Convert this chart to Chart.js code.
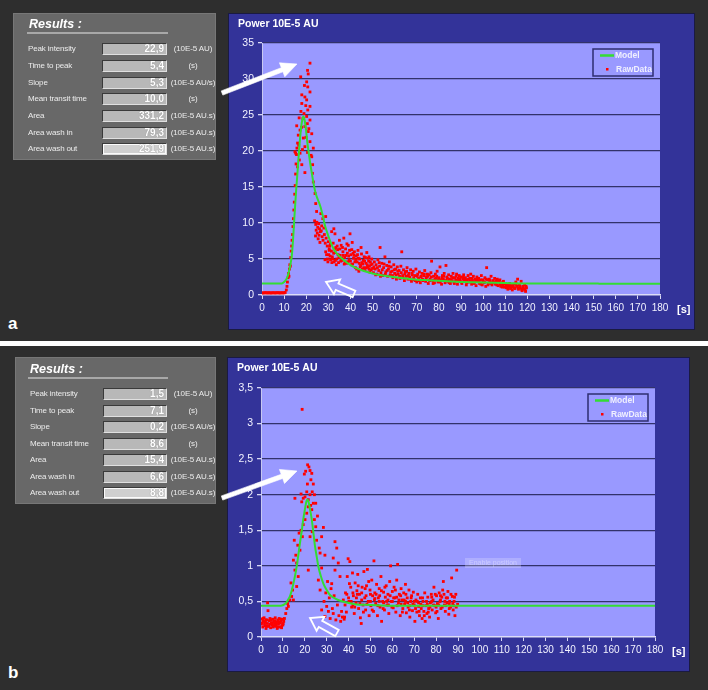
<!DOCTYPE html>
<html>
<head>
<meta charset="utf-8">
<script src="https://cdn.jsdelivr.net/npm/chart.js@4/dist/chart.umd.min.js"></script>
<style>
body{margin:0;width:708px;height:690px;background:#fff;position:relative;overflow:hidden;font-family:"Liberation Sans",Arial,sans-serif}
.abs{position:absolute}
.panel{position:absolute;left:0;width:708px;background:#2e2e2e}
.res{position:absolute;background:#686868;border:1px solid #777;box-sizing:border-box}
.hdr{position:absolute;color:#fff;font:italic bold 12.5px "Liberation Sans",Arial,sans-serif;white-space:nowrap}
.uline{position:absolute;height:2px;background:#a8a8a8}
.lbl{position:absolute;color:#ececec;font-size:8px;letter-spacing:-0.15px;height:12px;line-height:12px;white-space:nowrap}
.val{position:absolute;height:12px;box-sizing:border-box;background:#b8b8b8;border:1px solid;border-color:#3a3a3a #e0e0e0 #e0e0e0 #3a3a3a;color:#fff;font-weight:bold;font-size:10px;line-height:10px;text-align:right;padding-right:2px;text-shadow:0 0 1px #777}
.val.sel{background:#cfcfcf;box-shadow:inset 0 0 0 1px #fafafa}
.unit{position:absolute;color:#ececec;font-size:8px;letter-spacing:-0.1px;height:12px;line-height:12px;width:60px;text-align:center;white-space:nowrap}
.tag{position:absolute;color:#fff;font:bold 17px "Liberation Sans",Arial,sans-serif}
canvas{position:absolute}
</style>
</head>
<body>
<div class="panel" style="top:0;height:341px"></div>
<div class="panel" style="top:346px;height:344px"></div>
<canvas id="chartA" width="467" height="317" style="left:228px;top:13px"></canvas>
<canvas id="chartB" width="463" height="315" style="left:227px;top:357px"></canvas>
<div class="abs" style="left:465px;top:558px;width:56px;height:10px;background:rgba(225,225,255,0.3);color:rgba(255,255,255,0.35);font-size:7px;line-height:10px;text-align:center">Enable position</div>
<div class="tag" style="left:8px;top:314px">a</div>
<div class="tag" style="left:8px;top:663px">b</div>
<svg class="abs" id="arrows" width="708" height="690" style="left:0;top:0;pointer-events:none"></svg>
<script>
// ---------- data ----------
const resultLabels = ['Peak intensity','Time to peak','Slope','Mean transit time','Area','Area wash in','Area wash out'];
const resultUnits  = ['(10E-5 AU)','(s)','(10E-5 AU/s)','(s)','(10E-5 AU.s)','(10E-5 AU.s)','(10E-5 AU.s)'];
const resultValuesA = ['22,9','5,4','5,3','10,0','331,2','79,3','251,9'];
const resultValuesB = ['1,5','7,1','0,2','8,6','15,4','6,6','8,8'];

const chartTitle = 'Power 10E-5 AU';
const xMax = 180, xStep = 10;
const yMaxA = 35, yStepA = 5;
const yMaxB = 3.5, yStepB = 0.5;

// green model curve, panel a  [time s, power]
const modelA = [[0,1.6],[8.5,1.6],[9.5,1.7],[10.5,1.95],[11.5,2.5],[12.2,3.3],[13,4.5],[13.5,5.5],[14,7.5],[14.5,10],[15,12.5],[15.5,14.8],[16,16.8],[16.5,19],[17,21],[17.6,23],[18.2,24.3],[18.7,24.8],[19.2,24.4],[19.8,23.2],[20.5,21.2],[21.2,19.6],[21.8,18.3],[22.6,16.8],[23.3,15.5],[24.2,14.2],[25.2,13.3],[26.4,12.3],[27.5,11],[28.6,9.5],[30,8.2],[31.2,7.2],[32.4,6.4],[34,5.7],[36,5.1],[38,4.6],[40.8,4.0],[44,3.55],[48,3.15],[52,2.85],[57,2.6],[62,2.4],[68,2.2],[75,2.05],[82,1.93],[90,1.82],[100,1.72],[110,1.65],[120,1.6],[152,1.6],[153,1.55],[180,1.55]];

// red raw samples, panel a
const rawDataA = [
[0,0.3],[0.5,0.28],[1,0.3],[1.5,0.32],[2,0.3],[2.5,0.29],[3,0.31],[3.5,0.3],[4,0.28],[4.5,0.3],[5,0.31],[5.5,0.3],[6,0.29],[6.5,0.3],[7,0.32],[7.5,0.3],[8,0.29],[8.5,0.3],[9,0.31],[9.5,0.3],[10,0.3],[10.5,0.35],
[11,0.7],[11.3,1.2],[11.5,1.8],[11.8,2.4],[12,3.0],[12.2,2.6],[12.4,3.6],[12.6,4.2],[12.8,4.0],[13,5.2],[13.2,6.1],[13.4,6.8],[13.6,7.6],[13.8,8.4],[14,9.5],[14.2,10.6],[14.4,11.8],[14.6,12.9],[14.8,14.0],[15,15.2],[15.2,16.8],[15.4,18.2],[15.6,19.5],[15.8,20.4],
[21.7,32.2],[20.9,30.7],[20.2,29.6],[17.5,30.3],[20.7,28.9],[21.7,28.2],[19.4,27.5],[18,27.8],[20.2,27.1],[18,26.6],[21.7,26.2],[20.7,25.7],[17.6,25.5],[20.2,24.8],[21.7,24.3],[15.7,23.5],[19.4,23.4],[17.2,22.9],[20.9,22.7],[22.5,22.4],[16.4,22.2],[18.7,21.8],[21.7,21.3],[16.1,21.1],[19.4,20.6],[23.2,20.4],[14.9,19.9],[17.2,19.7],[22.2,19.4],[15.2,19.7],[16.9,18.75],[16.1,17.8],[19.4,17.0],[18,18.1],[22.5,19.2],[22.9,18.1],[22.8,16.9],[23.2,15.7],[24,14.1],[24.3,12.7],[24.7,11.6],
[19,25.2],[19.8,26.3],[18.5,24.5],[20.5,23.8],[16.8,24.6],[17.9,23.3],[19.9,21.9],[21.2,23.1],[18.3,20.2],[20.6,19.8],[16.6,20.8],[19.2,29.1],[20.6,31.2],
[23.8,10.3],[24.3,9.8],[24.8,10.1],[25.2,9.4],[25.6,9.9],[26,9.2],[26.4,8.8],[24.5,9.0],[25,8.6],[25.8,8.3],[26.8,8.9],[27.2,8.1],[27.6,7.6],[28.2,8.4],[28.6,7.2],[29,7.9],[24.2,8.2],[25.4,7.8],[26.2,7.3],[27,9.6],[28,9.3],[29.5,6.8],[30,7.4],[30.4,6.4],[31,7.0],[26.6,11.3],[27.5,10.6],[28.8,10.9],[31.5,8.8],[32.5,9.2],[33,8.5],[28.5,4.9],[29.2,5.6],[29.8,4.6],
[30.2,5.6],[30.6,6.8],[31,4.9],[31.4,6.1],[31.8,5.3],[32.2,7.2],[32.6,4.6],[33,5.9],[33.4,6.6],[33.8,5.0],[34.2,6.3],[34.6,4.5],[35,7.6],[35.4,5.5],[35.8,6.9],[36.2,4.8],[36.6,6.0],[37,7.9],[37.4,5.2],[37.8,6.4],[38.2,4.4],[38.6,5.8],[39,6.9],[39.4,4.9],[39.8,8.5],[40.2,5.6],[40.6,6.3],[41,4.3],[41.4,5.1],[41.8,6.0],[42.2,3.8],[42.6,5.4],[43,4.6],[43.4,6.2],[43.8,3.3],[44.2,5.0],[44.6,4.1],[45,5.7],[45.4,3.6],[45.8,4.8],[46.2,5.3],[46.6,3.4],[47,4.4],[47.4,5.9],[47.8,3.9],[48.2,4.7],[48.4,5.3],[48.8,3.2],[49.2,4.2],[49.6,5.0],[50,3.7],
[30.4,6.2],[31.2,7.0],[32,5.0],[32.8,6.4],[33.6,4.2],[34.4,5.6],[35.2,6.4],[36,5.1],[36.8,5.5],[37.6,4.6],[38.4,7.1],[39.2,5.4],[40,4.7],[40.8,7.3],[41.6,5.5],[42.4,4.9],[43.2,5.6],[44,4.4],[44.8,6.6],[45.6,4.3],[46.4,4.7],[47.2,3.8],[48,5.1],[48.6,4.0],[49.4,3.5],
[28.8,6.0],[29.6,5.0],[30.8,5.4],[31.6,4.5],[32.4,5.8],[33.2,4.8],[34,6.8],[34.8,5.2],[35.6,4.7],[36.4,6.6],[37.2,4.3],[38,5.5],[38.8,4.6],[39.6,6.2],[40.4,4.2],[41.2,5.8],[42,4.6],[42.8,3.6],[43.6,5.1],[44.4,3.9],[45.2,4.5],[46,3.8],[46.8,5.2],[47.6,4.2],[48.4,3.6],[49,4.6],[49.8,4.3],
[50.4,3.1],[50.8,4.6],[51.2,3.6],[51.6,4.2],[52,2.9],[52.4,4.9],[52.8,3.4],[53.2,4.0],[53.4,6.6],[53.8,3.1],[54.2,4.4],[54.6,2.7],[55,3.8],[55.6,5.3],[56,3.2],[56.4,4.1],[56.8,2.6],[57.2,3.6],[57.6,4.6],[58,2.8],[58.4,3.9],[58.8,3.3],[59.2,2.4],[59.6,4.2],[60,3.0],[60.4,3.6],[60.8,2.2],[61.2,3.9],[61.6,2.9],[62,3.4],[62.4,2.3],[62.8,4.0],[63.2,6.0],[63.6,2.7],[64,3.5],[64.4,2.0],[64.8,3.2],[65.2,2.6],[65.6,3.8],[66,2.2],[66.4,3.0],[66.8,2.5],[67.2,3.5],[67.6,1.9],[68,2.8],[68.4,3.3],[68.8,2.1],[69.2,2.7],[69.6,3.6],[70,1.8],
[70.4,2.9],[70.8,2.3],[71.2,3.2],[71.6,1.7],[72,2.6],[72.4,3.0],[72.8,2.0],[73.2,2.7],[73.6,3.4],[74,1.9],[74.4,2.5],[74.8,2.9],[75.2,1.6],[75.6,2.8],[76,2.2],[76.4,3.1],[76.7,4.7],[77.2,2.0],[77.6,2.6],[78,1.7],[78.4,2.9],[78.8,2.3],[79.2,3.3],[79.6,1.8],[80,2.4],[80.5,3.9],[80.8,2.1],[81.2,1.5],[81.6,2.7],[82,2.2],[82.4,3.0],[82.8,1.7],[83.2,4.1],[83.6,2.5],[84,1.9],[84.4,2.8],[84.8,2.2],[85.2,1.6],[85.6,2.6],[86,2.0],[86.4,3.0],[86.8,1.8],[87.2,2.4],[87.6,2.1],[88,2.9],[88.4,1.5],[88.8,2.3],[89.2,2.7],[89.6,1.9],[90,2.5],
[90.4,1.6],[90.8,2.2],[91.2,2.8],[91.6,1.9],[92,2.4],[92.4,1.4],[92.8,2.1],[93.2,2.7],[93.6,1.8],[94,2.3],[94.4,2.9],[94.8,1.5],[95.2,2.0],[95.6,2.6],[96,1.7],[96.4,2.2],[96.8,1.3],[97.2,2.5],[97.6,1.9],[98,2.3],[98.4,1.6],[98.8,2.1],[99.2,2.7],[99.6,1.4],[100,2.0],[100.4,1.7],[100.8,2.4],[101.2,1.2],[101.6,3.8],[102,2.1],[102.4,1.6],[102.8,2.2],[103.2,1.8],[103.6,2.6],[104,1.4],[104.4,2.0],[104.8,1.7],[105.2,2.3],[105.6,1.5],[106,1.9],[106.4,2.2],[106.8,1.3],[107.2,1.8],[107.6,2.1],[108,1.2],[108.4,1.7],[108.8,1.4],[109.2,1.9],[109.6,1.1],[110,1.6],
[110.4,1.0],[110.8,1.4],[111.2,0.8],[111.6,1.2],[112,1.6],[112.4,0.9],[112.8,1.3],[113.2,0.7],[113.6,1.1],[114,1.5],[114.4,0.9],[114.8,1.8],[115.2,1.2],[115.6,2.2],[116,0.8],[116.4,1.4],[116.8,1.0],[117.2,1.9],[117.6,0.6],[118,1.2],[118.4,0.8],[118.8,1.4],[119.2,0.5],[119.6,1.0],
[50.6,3.9],[51.4,2.8],[52.2,3.8],[53,4.5],[53.6,2.6],[54.4,3.5],[55.2,4.3],[55.8,2.9],[56.6,3.4],[57.4,4.0],[58.2,3.2],[59,2.7],[59.8,3.5],[60.6,2.8],[61.4,3.3],[62.2,2.6],[63,3.1],[63.8,2.4],[64.6,2.9],[65.4,3.3],[66.2,2.7],[67,2.2],[67.8,3.0],[68.6,2.4],[69.4,2.0],[70.2,2.6],[71,2.0],[71.8,2.5],[72.6,2.2],[73.4,2.9],[74.2,2.3],[75,2.6],[75.8,2.0],[76.6,2.5],[77.4,1.6],[78.2,2.2],[79,2.6],[79.8,2.1],[80.6,1.8],[81.4,2.4],[82.2,2.6],[83,2.0],[83.8,2.3],[84.6,1.7],[85.4,2.1],[86.2,2.4],[87,1.6],[87.8,2.6],[88.6,2.0],[89.4,2.2],
[90.2,1.8],[91,2.5],[91.8,2.1],[92.6,1.7],[93.4,2.2],[94.2,1.9],[95,2.3],[95.8,1.6],[96.6,2.0],[97.4,2.2],[98.2,1.8],[99,1.5],[99.8,2.1],[100.6,1.8],[101.4,2.2],[102.2,1.4],[103,2.0],[103.8,1.6],[104.6,1.9],[105.4,1.7],[106.2,1.4],[107,2.0],[107.8,1.5],[108.6,1.1],[109.4,1.6],[110.2,1.3],[111,1.1],[111.8,1.5],[112.6,1.0],[113.4,1.3],[114.2,1.0],[115,1.5],[115.8,1.0],[116.6,1.2],[117.4,0.8],[118.2,1.0],[119,0.7],[119.4,1.2]
];

// green model curve, panel b
const modelB = [[0,0.44],[9,0.44],[10.2,0.45],[11.5,0.48],[12.3,0.52],[13.2,0.57],[14,0.65],[14.8,0.75],[15.6,0.87],[16.3,0.99],[17,1.14],[17.8,1.32],[18.6,1.49],[19.3,1.65],[20.1,1.8],[20.9,1.92],[21.4,1.93],[22,1.86],[22.6,1.76],[23.2,1.65],[24,1.45],[24.7,1.27],[25.5,1.12],[26.2,0.99],[27.3,0.86],[28.5,0.75],[30,0.66],[31.5,0.59],[33.4,0.55],[35.3,0.52],[38.5,0.49],[42.9,0.46],[50,0.45],[60,0.44],[180,0.44]];

// red raw samples, panel b
const rawDataB = [
[0.2,0.18],[0.5,0.25],[0.8,0.14],[1.1,0.22],[1.4,0.27],[1.7,0.16],[2,0.21],[2.3,0.12],[2.6,0.24],[2.9,0.19],[3,0.48],[3.2,0.37],[3.5,0.15],[3.8,0.23],[4.1,0.26],[4.4,0.13],[4.7,0.2],[5,0.17],[5.3,0.25],[5.6,0.14],[5.9,0.22],[6.2,0.19],[6.5,0.27],[6.8,0.15],[7.1,0.21],[7.4,0.12],[7.7,0.24],[8,0.18],[8.3,0.26],[8.6,0.14],[8.9,0.2],[9.2,0.23],[9.5,0.16],[9.8,0.25],[10.1,0.19],[10.4,0.22],
[0.3,0.2],[0.9,0.26],[1.6,0.19],[2.2,0.24],[2.8,0.15],[4,0.18],[4.6,0.24],[5.2,0.2],[5.8,0.16],[6.4,0.23],[7,0.18],[7.6,0.14],[8.2,0.21],[8.8,0.25],[9.4,0.13],[10,0.17],
[10.7,0.26],[11.3,0.33],[11.8,0.4],[12.2,0.47],[12.5,0.43],[13.2,0.52],[13.7,0.76],[14,0.57],[14.4,0.66],[14.8,0.52],[14.8,1.08],[15.2,1.36],[15.5,0.94],[15.5,1.95],[15.9,1.15],[16.3,0.71],[16.3,1.04],[16.8,1.29],[17,0.85],[17.4,1.46],[17.8,1.22],[18.3,1.5],[18.3,2.01],[18.6,1.9],[18.8,3.2],[18.9,1.41],[19.3,1.58],[19.3,1.95],[19.8,2.29],[20.1,1.65],[20.1,1.97],[20.4,2.33],[20.9,1.74],[20.9,2.04],[21.2,2.15],[21.3,2.42],[21.6,1.83],[21.6,0.94],[21.6,1.93],[21.9,2.39],[22.4,1.41],[22.4,2.0],[22.4,2.34],[22.7,1.85],[22.8,2.21],[23.2,1.79],[23.2,2.3],[23.4,1.48],[23.4,2.04],[23.9,1.88],[23.9,2.15],[24.4,1.65],[24.4,2.0],[25,1.55],[25,1.88],[25.4,1.36],[25.8,1.7],[26.2,0.8],[26.6,1.25],[27,1.18],[27,0.66],[27.7,0.97],[27.7,0.38],[27.7,1.41],[28.5,1.54],[28.8,0.5],[29.2,1.15],[29.2,0.29],[29.6,0.62],[30,0.43],[30.4,0.78],[30.8,0.36],[31.2,0.55],[31.6,0.26],[32,0.68],[32.3,0.75],[32.6,0.4],[33,1.11],[33,0.33],[33.4,0.58],[33.8,1.34],[33.8,0.94],[34.2,0.24],[34.6,1.25],[34.9,0.45],[35.3,1.04],[35.6,0.3],[36.1,0.85],[36.4,0.22],[36.8,0.36],[37.2,0.28],[37.6,0.52],[38,0.25],
[38.2,0.28],[38.6,0.62],[39,0.35],[39.4,0.85],[39.8,1.1],[40.2,0.5],[40.6,1.06],[41,0.7],[41.4,0.42],[41.8,0.9],[42.2,0.58],[42.6,0.33],[43,0.76],[43.4,0.48],[43.8,0.65],[44.2,0.88],[44.6,0.4],[45,0.6],[45.4,0.27],[45.8,0.19],[46.2,0.7],[46.6,0.45],[47,0.92],[47.4,0.55],[47.8,0.38],[48.2,0.72],[48.6,0.95],[49,0.5],[49.4,0.3],[49.8,0.66],
[50.2,0.44],[50.6,0.8],[51,0.58],[51.4,0.36],[51.6,1.07],[52,0.62],[52.4,0.47],[52.8,0.74],[53.2,0.3],[53.6,0.55],[54,0.68],[54.4,0.42],[54.8,0.85],[55.1,0.22],[55.6,0.5],[56,0.63],[56.4,0.38],[56.8,0.56],[57.2,0.72],[57.6,0.45],[58,0.6],[58.4,0.33],[58.8,0.78],[59.2,1.0],[59.6,0.5],[60,0.64],[60.4,0.41],[60.8,0.7],[61.2,0.55],[61.6,0.35],[62,0.8],[62.4,1.02],[62.8,0.48],[63.2,0.6],[63.6,0.3],[64,0.68],[64.4,0.52],[64.8,0.4],[65.2,0.62],[65.6,0.46],[66,0.74],[66.4,0.34],[66.8,0.55],[67.2,0.42],[67.6,0.66],[68,0.28],[68.4,0.5],[68.8,0.58],[69.2,0.37],[69.6,0.63],
[70,0.45],[70.3,0.22],[70.8,0.52],[71.2,0.35],[71.6,0.6],[72,0.43],[72.4,0.3],[72.8,0.55],[73.2,0.4],[73.6,0.26],[74,0.5],[74.4,0.36],[74.8,0.62],[75,0.22],[75.4,0.44],[75.8,0.33],[76.2,0.56],[76.6,0.4],[77,0.28],[77.4,0.48],[77.8,0.6],[78.2,0.38],[78.6,0.52],[79,0.7],[79.4,0.44],[79.8,0.34],[80.2,0.58],[80.6,0.47],[81,0.26],[81.4,0.62],[81.8,0.5],[82.2,0.4],[82.6,0.56],[83,0.66],[83.3,0.78],[83.8,0.45],[84.2,0.36],[84.6,0.55],[85,0.48],[85.4,0.64],[85.8,0.32],[86.2,0.5],[86.6,0.42],[87.1,0.83],[87.4,0.57],[87.8,0.38],[88.2,0.5],[88.6,0.3],[89,0.6],[89.4,0.94],[89.8,0.46],
[40,0.55],[42,0.45],[44,0.6],[46,0.52],[48,0.58],[50,0.5],[52,0.54],[54,0.5],[56,0.48],[58,0.52],[60,0.5],[62,0.56],[64,0.46],[66,0.5],[68,0.44],[70,0.5],[72,0.48],[74,0.44],[76,0.46],[78,0.5],[80,0.42],[82,0.52],[84,0.5],[86,0.46],[88,0.44],
[38.4,0.45],[39.2,0.6],[40.4,0.75],[41.2,0.5],[42,0.62],[42.8,0.42],[43.6,0.55],[44.4,0.72],[45.2,0.47],[46,0.62],[46.8,0.35],[47.6,0.68],[48.4,0.46],[49.2,0.78],[50,0.6],[50.8,0.38],[51.8,0.52],[52.6,0.6],[53.4,0.44],[54.2,0.58],[55,0.65],[55.8,0.4],[56.6,0.7],[57.4,0.5],[58.2,0.45],[59,0.58],[59.8,0.42],[60.6,0.55],[61.4,0.66],[62.2,0.44],[63,0.52],[63.8,0.58],[64.6,0.35],[65.4,0.52],[66.2,0.6],[67,0.48],[67.8,0.38],[68.6,0.55],[69.4,0.46],[70.6,0.4],[71.4,0.5],[72.2,0.36],[73,0.46],[73.8,0.55],[74.6,0.3],[75.6,0.5],[76.4,0.35],[77.2,0.42],[78,0.56],[78.8,0.45],[79.6,0.6],[80.4,0.36],[81.2,0.45],[82,0.58],[82.8,0.42],[83.6,0.6],[84.4,0.44],[85.2,0.55],[86,0.4],[86.8,0.6],[87.6,0.47],[88.4,0.56],[89.2,0.42]
];

// ---------- results tables ----------
function addDiv(cls, style, text){
  const d = document.createElement('div');
  d.className = cls;
  Object.assign(d.style, style);
  if(text != null) d.textContent = text;
  document.body.appendChild(d);
  return d;
}
function buildResults(p, values){
  addDiv('res', {left:p.x+'px', top:p.y+'px', width:p.w+'px', height:p.h+'px'});
  addDiv('hdr', {left:p.hx+'px', top:(p.hy-12)+'px'}, 'Results :');
  addDiv('uline', {left:p.ux+'px', top:p.uy+'px', width:(168-p.ux)+'px'});
  resultLabels.forEach((lab, i) => {
    const top = p.row0 + i*p.step;
    addDiv('lbl', {left:p.lx+'px', top:top+'px'}, lab);
    addDiv('val' + (i === resultLabels.length-1 ? ' sel' : ''), {left:p.vx+'px', top:top+'px', width:(167-p.vx)+'px'}, values[i]);
    addDiv('unit', {left:'163px', top:top+'px'}, resultUnits[i]);
  });
}
buildResults({x:13, y:13, w:203, h:147, hx:29, hy:29, ux:27, uy:32, lx:28, vx:102, row0:43.3, step:16.67}, resultValuesA);
buildResults({x:15, y:357, w:201, h:147, hx:30, hy:374, ux:28, uy:377, lx:30, vx:103, row0:388.3, step:16.5}, resultValuesB);

// ---------- annotation arrows ----------
const svg = document.getElementById('arrows');
function arrow(tail, tip, sw, hl, hw, filled){
  const dx = tip[0]-tail[0], dy = tip[1]-tail[1], L = Math.hypot(dx, dy);
  const ux = dx/L, uy = dy/L, nx = -uy, ny = ux;
  const bx = tip[0]-ux*hl, by = tip[1]-uy*hl;
  const pts = [
    [tail[0]-nx*sw, tail[1]-ny*sw], [bx-nx*sw, by-ny*sw], [bx-nx*hw, by-ny*hw], tip,
    [bx+nx*hw, by+ny*hw], [bx+nx*sw, by+ny*sw], [tail[0]+nx*sw, tail[1]+ny*sw]
  ];
  const pg = document.createElementNS('http://www.w3.org/2000/svg', 'polygon');
  pg.setAttribute('points', pts.map(q => q[0].toFixed(1)+','+q[1].toFixed(1)).join(' '));
  pg.setAttribute('fill', filled ? '#ffffff' : 'none');
  pg.setAttribute('stroke', '#ffffff');
  pg.setAttribute('stroke-width', filled ? '0.6' : '1.8');
  svg.appendChild(pg);
}
arrow([222,93], [297,64], 2.2, 16, 7.5, true);
arrow([354,294], [326,282], 3.5, 12, 8, false);
arrow([222,498], [297,471], 2.2, 16, 7.5, true);
arrow([337,633], [310,618], 3.5, 12, 8, false);

// ---------- charts ----------
const FONT = '"Liberation Sans", Arial, sans-serif';
const deco = {
  id:'deco',
  beforeDraw(chart){
    const {ctx, chartArea:a, width, height} = chart;
    ctx.save();
    ctx.fillStyle = '#333399';
    ctx.fillRect(0, 0, width, height);
    ctx.strokeStyle = '#1a1a42';
    ctx.lineWidth = 1;
    ctx.strokeRect(0.5, 0.5, width-1, height-1);
    ctx.fillStyle = '#9999ff';
    ctx.fillRect(a.left, a.top, a.right-a.left, a.bottom-a.top);
    ctx.restore();
  },
  afterDraw(chart, args, opts){
    const {ctx, chartArea:a} = chart;
    ctx.save();
    ctx.textBaseline = 'middle';
    ctx.fillStyle = '#ffffff';
    ctx.font = 'bold 10.5px ' + FONT;
    ctx.fillText(opts.title, 10, 11.5);
    ctx.font = 'bold 11px ' + FONT;
    ctx.fillText('[s]', a.right+17, a.bottom+15);
    // legend
    const bx = a.right-67, by = a.top+6;
    ctx.strokeStyle = '#2e2e70';
    ctx.lineWidth = 1.5;
    ctx.strokeRect(bx, by, 60, 27);
    const m = chart.data.datasets[0], r = chart.data.datasets[1];
    ctx.strokeStyle = m.borderColor;
    ctx.lineWidth = 2.5;
    ctx.beginPath(); ctx.moveTo(bx+7, by+6.5); ctx.lineTo(bx+21, by+6.5); ctx.stroke();
    ctx.fillStyle = r.backgroundColor;
    ctx.fillRect(bx+13, by+19, 2.5, 2.5);
    ctx.fillStyle = '#f0f0ff';
    ctx.font = 'bold 8.5px ' + FONT;
    ctx.fillText(m.label, bx+22, by+7);
    ctx.fillText(r.label, bx+23, by+20.5);
    ctx.restore();
  }
};

const fmt = v => String(Math.round(v*10)/10).replace('.', ',');

function makeChart(id, model, raw, yMax, yStep, topPad){
  return new Chart(document.getElementById(id), {
    type:'scatter',
    data:{datasets:[
      {label:'Model', type:'line', data:model.map(p => ({x:p[0], y:p[1]})), borderColor:'#33dd33', borderWidth:2, pointRadius:0, cubicInterpolationMode:'monotone', fill:false},
      {label:'RawData', data:raw.map(p => ({x:p[0], y:p[1]})), backgroundColor:'#ff0000', borderColor:'#ff0000', pointStyle:'rect', pointRadius:2.0, pointBorderWidth:0}
    ]},
    options:{
      responsive:false, animation:false, devicePixelRatio:1,
      layout:{padding:{top:topPad, right:35, left:0, bottom:0}},
      plugins:{legend:{display:false}, tooltip:{enabled:false}, deco:{title:chartTitle}},
      scales:{
        x:{type:'linear', min:0, max:xMax, afterFit:s => { s.height = 35; },
          ticks:{stepSize:xStep, autoSkip:false, maxRotation:0, padding:3, color:'#f2f2ff', font:{size:10, family:FONT}},
          grid:{drawOnChartArea:false, tickColor:'#d8d8f4', tickLength:4},
          border:{color:'#dcdcf8', width:1.5}},
        y:{min:0, max:yMax, afterFit:s => { s.width = 34; },
          ticks:{stepSize:yStep, padding:4, color:'#f2f2ff', font:{size:10.5, family:FONT}, callback:fmt},
          grid:{color:c => c.tick && c.tick.value === 0 ? 'rgba(0,0,0,0)' : '#32326a', lineWidth:1.3, tickColor:'#d8d8f4', tickLength:4},
          border:{color:'#c8c8f0', width:1}}
      }
    },
    plugins:[deco]
  });
}
makeChart('chartA', modelA, rawDataA, yMaxA, yStepA, 30);
makeChart('chartB', modelB, rawDataB, yMaxB, yStepB, 31);
</script>
</body>
</html>
